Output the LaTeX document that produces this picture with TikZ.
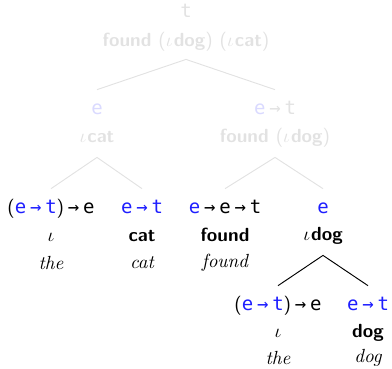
\documentclass[tikz,border=0pt]{standalone}
\usepackage{fontspec}
\newfontfamily\tyfont{DejaVu Sans Mono}
\definecolor{tyblue}{RGB}{30,30,255}
\definecolor{fadegray}{RGB}{226,226,226}
\definecolor{fadeblue}{RGB}{218,218,255}
\colorlet{hl}{tyblue}
% highlighted part of a type
\newcommand\hb[1]{\textcolor{hl}{#1}}
% function arrow inside a type
\newcommand\ar{\hspace{2pt}→\hspace{2pt}}
% light sans parentheses
\newcommand\pl{{\sffamily\mdseries(}}
\newcommand\pr{{\sffamily\mdseries)}}
\newcommand\io{$\iota$\hspace{0.6pt}}
\tikzset{
  ty/.style={font=\tyfont, text height=7pt, text depth=2pt, minimum height=21pt, inner xsep=0pt, inner ysep=0pt},
  lb/.style={font=\sffamily\bfseries, text height=7pt, text depth=2pt, minimum height=20pt, inner xsep=0pt, inner ysep=0pt},
  rootlb/.style={lb, minimum height=17.9pt},
  wd/.style={font=\itshape, inner sep=0pt},
  faded/.style={text=fadegray, execute at begin node={\colorlet{hl}{fadeblue}}},
  br/.style={line width=0.5pt},
  fbr/.style={br, draw=fadegray}
}
\begin{document}
\begin{tikzpicture}[x=0.526pt, y=-0.526pt]
\path[use as bounding box] (0,0) rectangle (392,368);

% root
\node[ty, faded] (rT) at (186,13) {t};
\node[rootlb, faded] (rL) at (186,42) {found \pl\io dog\pr\ \pl\io cat\pr};

% second level
\node[ty, faded] (aT) at (97,110) {\hb{e}};
\node[lb, faded] (aL) at (97,138) {\io cat};
\node[ty, faded] (bT) at (275,110) {\hb{e}\ar t};
\node[lb, faded] (bL) at (275,138) {found \pl\io dog\pr};

% third level
\node[ty] (c1T) at (51,209) {\pl\hb{e\ar t}\pr\ar e};
\node[lb] (c1L) at (51,237) {$\iota$};
\node[wd] (c1W) at (51,263) {the};
\node[ty] (c2T) at (142,209) {\hb{e\ar t}};
\node[lb] (c2L) at (142,237) {cat};
\node[wd] (c2W) at (142,263) {cat};
\node[ty] (c3T) at (225,209) {\hb{e}\ar e\ar t};
\node[lb] (c3L) at (225,237) {found};
\node[wd] (c3W) at (225,263) {found};
\node[ty] (c4T) at (323,209) {\hb{e}};
\node[lb] (c4L) at (323,236) {\io dog};

% fourth level
\node[ty] (d1T) at (278,306) {\pl\hb{e\ar t}\pr\ar e};
\node[lb] (d1L) at (278,333) {$\iota$};
\node[wd] (d1W) at (278,358) {the};
\node[ty] (d2T) at (368,306) {\hb{e\ar t}};
\node[lb] (d2L) at (368,333) {dog};
\node[wd] (d2W) at (368,358) {dog};

% branches
\draw[fbr] (aT.north) -- (rL.south) -- (bT.north);
\draw[fbr] (c1T.north) -- (aL.south) -- (c2T.north);
\draw[fbr] (c3T.north) -- (bL.south) -- (c4T.north);
\draw[br] (d1T.north) -- (c4L.south) -- (d2T.north);
\end{tikzpicture}
\end{document}
